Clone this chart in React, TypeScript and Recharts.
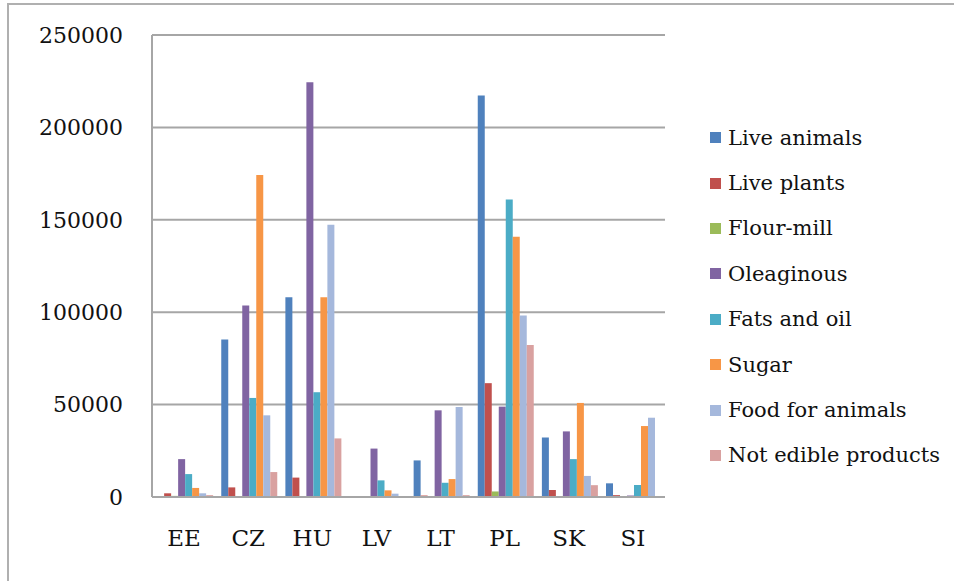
import { BarChart, Bar, XAxis, YAxis, CartesianGrid } from 'recharts'

const categories = ['EE', 'CZ', 'HU', 'LV', 'LT', 'PL', 'SK', 'SI']

const liveAnimals = [300, 85200, 108100, 500, 19800, 217200, 32200, 7400]
const livePlants = [2000, 5200, 10500, 300, 800, 61600, 3800, 1000]
const flourMill = [600, 300, 300, 100, 200, 3000, 300, 200]
const oleaginous = [20500, 103600, 224400, 26200, 46900, 48900, 35500, 800]
const fatsAndOil = [12400, 53600, 56700, 9000, 7700, 161000, 20500, 6500]
const sugar = [4900, 174200, 108100, 3600, 9700, 140800, 50900, 38400]
const foodForAnimals = [2000, 44200, 147300, 1800, 48700, 98200, 11400, 42900]
const notEdible = [1000, 13500, 31700, 300, 1000, 82300, 6400, 300]

const yTicks = [0, 50000, 100000, 150000, 200000, 250000]

const SERIES = [
  { key: 'liveAnimals', name: 'Live animals', color: '#4F81BD', values: liveAnimals },
  { key: 'livePlants', name: 'Live plants', color: '#C0504D', values: livePlants },
  { key: 'flourMill', name: 'Flour-mill', color: '#9BBB59', values: flourMill },
  { key: 'oleaginous', name: 'Oleaginous', color: '#8064A2', values: oleaginous },
  { key: 'fatsAndOil', name: 'Fats and oil', color: '#4BACC6', values: fatsAndOil },
  { key: 'sugar', name: 'Sugar', color: '#F79646', values: sugar },
  { key: 'foodForAnimals', name: 'Food for animals', color: '#A5B8DC', values: foodForAnimals },
  { key: 'notEdible', name: 'Not edible products', color: '#D9A1A0', values: notEdible },
]

const data = categories.map((c, i) => {
  const row: Record<string, string | number> = { country: c }
  SERIES.forEach((s) => { row[s.key] = s.values[i] })
  return row
})

const FONT = '"DejaVu Serif", serif'

function LegendList() {
  return (
    <div
      style={{
        position: 'absolute', left: 710, top: 115, fontFamily: FONT, fontSize: 21, color: '#111',
      }}
    >
      {SERIES.map((s) => (
        <div key={s.key} style={{ height: 45.4, display: 'flex', alignItems: 'center' }}>
          <span style={{ width: 11, height: 11, background: s.color, marginRight: 7, display: 'inline-block' }} />
          <span>{s.name}</span>
        </div>
      ))}
    </div>
  )
}

export default function App() {
  return (
    <div
      style={{
        position: 'absolute', left: 0, top: 0, width: 954, height: 581, background: '#fff',
      }}
    >
      <div
        style={{
          position: 'absolute', left: 7, top: 3, right: 0, bottom: 0,
          borderLeft: '2px solid #b0b0b0', borderTop: '2px solid #b0b0b0',
        }}
      />
      <BarChart
        width={954}
        height={581}
        data={data}
        margin={{ top: 35, right: 289, left: 0, bottom: 0 }}
        barCategoryGap="8%"
        barGap={0}
      >
        <CartesianGrid vertical={false} stroke="#a6a6a6" strokeWidth={2} />
        <XAxis
          dataKey="country"
          height={84}
          tickLine={false}
          tickSize={0}
          tickMargin={33}
          axisLine={{ stroke: '#a6a6a6', strokeWidth: 2 }}
          tick={{ fill: '#111', fontSize: 23, fontFamily: FONT }}
        />
        <YAxis
          width={152}
          domain={[0, 250000]}
          ticks={yTicks}
          interval={0}
          tickLine={false}
          tickSize={0}
          tickMargin={29}
          axisLine={{ stroke: '#a6a6a6', strokeWidth: 2 }}
          tick={{ fill: '#111', fontSize: 22, fontFamily: FONT }}
        />
        {SERIES.map((s) => (
          <Bar key={s.key} dataKey={s.key} name={s.name} fill={s.color} isAnimationActive={false} />
        ))}
      </BarChart>
      <LegendList />
    </div>
  )
}
